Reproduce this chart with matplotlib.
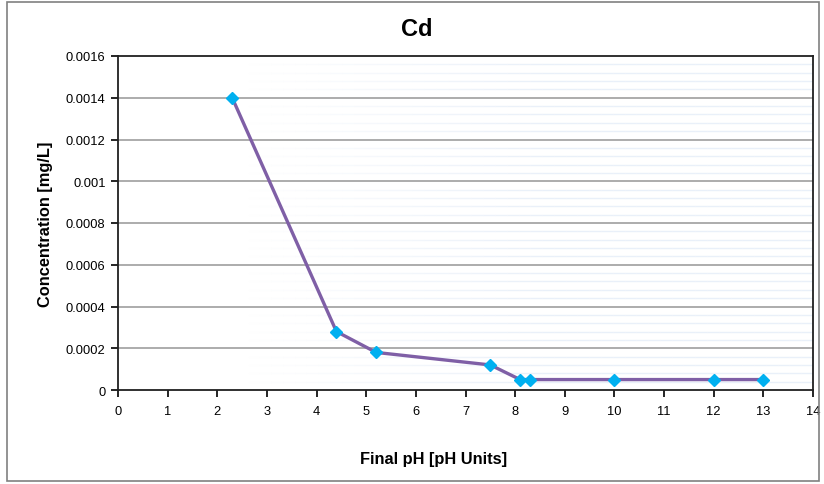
import numpy as np
import matplotlib
matplotlib.use('Agg')
import matplotlib.pyplot as plt
from matplotlib.collections import LineCollection
from matplotlib.patches import Rectangle

# dane
ph = [2.3, 4.4, 5.2, 7.5, 8.1, 8.3, 10, 12, 13]
cd = [0.0014, 0.00028, 0.00018, 0.00012, 0.00005, 0.00005, 0.00005, 0.00005, 0.00005]
x_ticks = list(range(0, 15))
y_ticks = [0, 0.0002, 0.0004, 0.0006, 0.0008, 0.001, 0.0012, 0.0014, 0.0016]
y_labels = ['0', '0.0002', '0.0004', '0.0006', '0.0008', '0.001', '0.0012', '0.0014', '0.0016']

plt.rcParams['font.family'] = ['Liberation Sans', 'DejaVu Sans']

W, H = 824, 485
fig = plt.figure(figsize=(W / 100, H / 100), dpi=100)
ax = fig.add_axes([118 / W, 1 - 391 / H, 695 / W, 334 / H])

# ramka wokol calego wykresu
fig.patches.append(Rectangle((7 / W, 3 / H), 812 / W, 479 / H,
                             transform=fig.transFigure, fill=False,
                             edgecolor='#808080', linewidth=1.2))

# delikatne niebieskie linie pomocnicze, zanikajace w lewo
segs = []
cols = []
xs = np.linspace(0, 14, 60)
for yv in np.arange(0.00004, 0.0016, 0.00004):
    if abs(yv / 0.0002 - round(yv / 0.0002)) < 1e-6:
        continue
    for i in range(len(xs) - 1):
        segs.append([(xs[i], yv), (xs[i + 1], yv)])
        a = np.clip((xs[i] - 2.5) / 6.0, 0, 1) * 0.6
        cols.append((0.86, 0.90, 0.96, a))
ax.add_collection(LineCollection(segs, colors=cols, linewidths=1.0, zorder=0))

for yv in y_ticks[1:-1]:
    ax.axhline(yv, color='#a6a6a6', linewidth=1.3, zorder=1)

ax.plot(ph, cd, color='#7f5fa6', linewidth=2.4, zorder=2)
ax.plot(ph, cd, linestyle='none', marker='D', markersize=6.5,
        color='#00b0f0', markeredgecolor='#00b0f0', zorder=3)

ax.set_xlim(0, 14)
ax.set_ylim(0, 0.0016)
ax.set_xticks(x_ticks)
ax.set_yticks(y_ticks)
ax.set_yticklabels(y_labels)
ax.tick_params(direction='out', length=5, width=1.2, labelsize=9.3, pad=4)
ax.tick_params(axis='x', pad=6)

for s in ax.spines.values():
    s.set_linewidth(1.3)
    s.set_color('#202020')

fig.text(417 / W, 1 - 30 / H, 'Cd', fontsize=17, fontweight='bold',
         ha='center', va='center')
fig.text(434 / W, 1 - 460 / H, 'Final pH [pH Units]', fontsize=11.8,
         fontweight='bold', ha='center', va='center')
fig.text(46 / W, 1 - 224 / H, 'Concentration [mg/L]', fontsize=11.8,
         fontweight='bold', ha='center', va='center', rotation=90)

fig.savefig('out.png', dpi=100)
